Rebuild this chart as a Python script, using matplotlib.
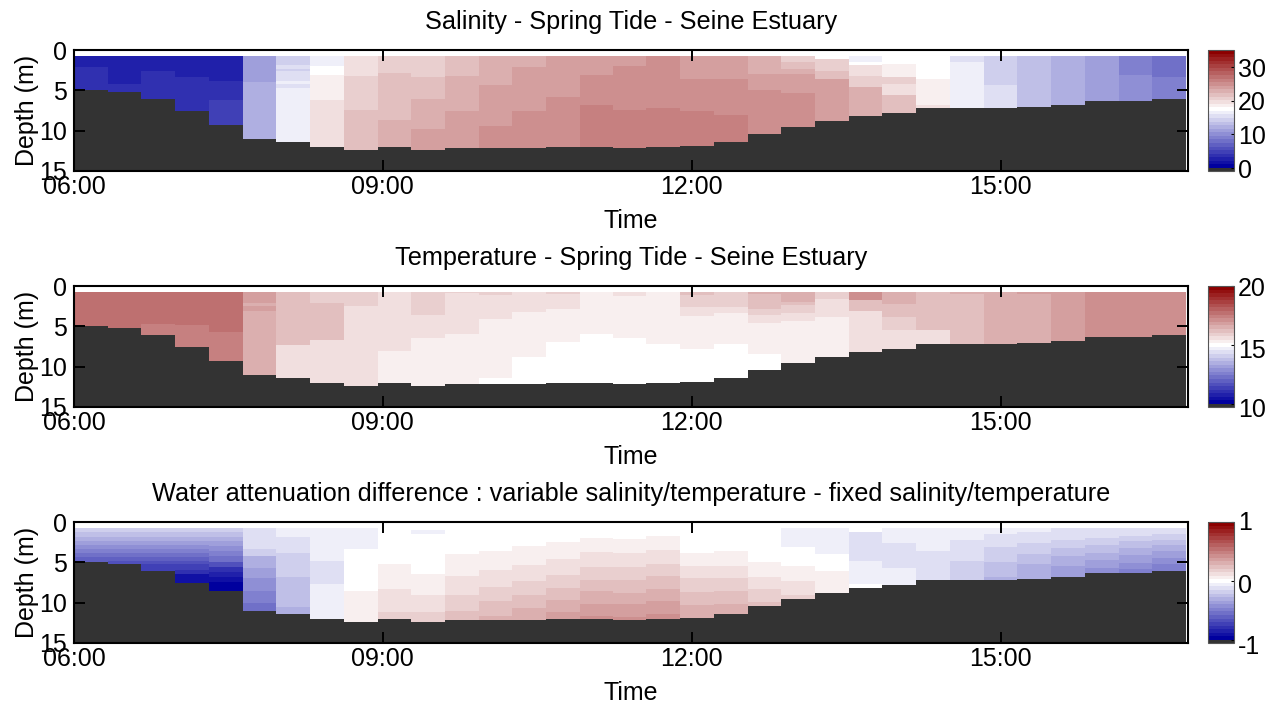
import numpy as np
import matplotlib
matplotlib.use("Agg")
import matplotlib.pyplot as plt
from matplotlib.cm import ScalarMappable
from matplotlib.colors import LinearSegmentedColormap, Normalize
from matplotlib.transforms import ScaledTranslation

plt.rcParams["font.family"] = ["Liberation Sans", "DejaVu Sans"]

# ping column edges, in decimal hours
time_edges = [6.00, 6.33, 6.65, 6.98, 7.31, 7.64, 7.96, 8.29, 8.62, 8.95, 9.27, 9.60,
              9.93, 10.25, 10.58, 10.91, 11.24, 11.56, 11.89, 12.22, 12.55, 12.87,
              13.20, 13.53, 13.85, 14.18, 14.51, 14.84, 15.16, 15.49, 15.82, 16.15,
              16.47, 16.80]
time_ticks = [6, 9, 12, 15]
time_labels = ["06:00", "09:00", "12:00", "15:00"]
depth_ticks = [0, 5, 10, 15]
surface_depth = 0.8

# each column: (depth at the bottom of the layer, value of the layer)
salinity = [
    [(2.15, 2.7), (5.0, 3.7)],
    [(4.2, 2.7), (5.2, 3.7)],
    [(2.6, 2.7), (6.05, 3.7)],
    [(3.4, 2.7), (7.6, 3.7)],
    [(3.8, 2.7), (6.2, 3.7), (9.25, 4.8)],
    [(4.0, 11.1), (11.0, 12.2)],
    [(1.8, 14.3), (2.3, 15.4), (2.55, 14.3), (3.8, 15.4), (4.2, 16.4), (4.7, 15.4), (11.45, 16.4)],
    [(2.0, 16.4), (3.1, 17.5), (6.2, 18.6), (12.0, 19.6)],
    [(3.2, 19.6), (7.0, 21.2), (7.4, 20.2), (12.4, 21.7)],
    [(2.85, 20.7), (8.7, 21.7), (12.0, 22.8)],
    [(3.4, 20.7), (6.1, 21.7), (9.8, 22.8), (12.4, 23.9)],
    [(3.2, 21.7), (7.6, 22.8), (12.2, 23.9)],
    [(4.4, 22.8), (9.4, 23.9), (12.2, 24.9)],
    [(2.15, 22.8), (7.6, 23.9), (12.2, 24.9)],
    [(5.8, 23.9), (12.0, 24.9)],
    [(3.1, 23.9), (6.8, 24.9), (12.0, 26.0)],
    [(1.95, 23.9), (7.4, 24.9), (12.2, 26.0)],
    [(7.2, 24.9), (12.0, 26.0)],
    [(3.6, 23.9), (7.5, 24.9), (11.9, 26.0)],
    [(3.6, 23.9), (8.0, 24.9), (11.45, 26.0)],
    [(3.0, 22.8), (4.95, 23.9), (10.4, 24.9)],
    [(1.5, 20.7), (2.35, 21.7), (3.0, 22.8), (5.35, 23.9), (9.6, 24.9)],
    [(1.1, 17.5), (2.6, 20.7), (3.6, 21.7), (8.85, 23.9)],
    [(1.45, 16.4), (1.9, 17.5), (3.2, 19.6), (4.6, 20.7), (8.2, 22.8)],
    [(1.75, 17.5), (3.35, 18.6), (4.2, 20.7), (5.55, 19.6), (7.75, 21.7)],
    [(3.6, 17.5), (6.8, 18.6), (7.25, 19.6)],
    [(1.45, 15.4), (7.25, 16.4)],
    [(4.3, 14.3), (7.25, 15.4)],
    [(7.05, 13.3)],
    [(6.8, 12.2)],
    [(6.35, 11.1)],
    [(3.1, 9.0), (6.35, 10.1)],
    [(3.4, 8.0), (6.05, 9.0)],
]

temperature = [
    [(5.0, 17.7)],
    [(5.2, 17.7)],
    [(4.65, 17.7), (6.05, 17.4)],
    [(4.8, 17.7), (7.6, 17.4)],
    [(5.7, 17.7), (9.25, 17.4)],
    [(2.05, 16.8), (2.45, 16.5), (3.1, 16.8), (11.0, 16.5)],
    [(7.3, 16.2), (11.45, 15.6)],
    [(2.05, 15.9), (6.65, 16.2), (12.0, 15.6)],
    [(2.45, 15.9), (12.4, 15.6)],
    [(8.0, 15.6), (12.0, 15.3)],
    [(3.6, 15.9), (6.5, 15.6), (12.4, 15.3)],
    [(0.9, 15.9), (5.9, 15.6), (12.2, 15.3)],
    [(1.1, 15.9), (4.1, 15.6), (11.4, 15.3), (12.2, 15.0)],
    [(3.2, 15.6), (8.8, 15.3), (12.2, 15.0)],
    [(1.0, 15.9), (2.8, 15.6), (7.0, 15.3), (12.0, 15.0)],
    [(6.0, 15.3), (12.0, 15.0)],
    [(1.2, 15.6), (6.4, 15.3), (12.2, 15.0)],
    [(7.2, 15.3), (12.0, 15.0)],
    [(1.1, 16.2), (2.6, 15.9), (3.7, 15.6), (7.8, 15.3), (11.9, 15.0)],
    [(2.6, 15.9), (3.4, 15.6), (7.2, 15.3), (11.45, 15.0)],
    [(1.0, 16.5), (2.9, 16.2), (3.6, 15.9), (4.55, 15.6), (8.4, 15.3), (10.4, 15.0)],
    [(1.95, 16.5), (2.35, 16.2), (3.4, 15.9), (4.4, 15.6), (9.6, 15.3)],
    [(1.65, 15.9), (3.8, 15.6), (8.85, 15.3)],
    [(1.77, 17.1), (3.1, 16.2), (8.2, 15.6)],
    [(2.2, 16.5), (3.8, 16.2), (5.5, 15.9), (7.75, 15.6)],
    [(5.5, 16.2), (7.25, 15.6)],
    [(1.0, 16.5), (7.25, 16.2)],
    [(7.25, 16.5)],
    [(1.0, 16.8), (7.05, 16.5)],
    [(6.8, 16.8)],
    [(6.35, 17.1)],
    [(6.35, 17.1)],
    [(6.05, 17.1)],
]

attenuation = [
    [(1.3, -0.18), (1.8, -0.24), (2.3, -0.30), (2.8, -0.36), (3.3, -0.42), (3.9, -0.48), (4.4, -0.55), (5.0, -0.61)],
    [(1.2, -0.18), (1.8, -0.24), (2.4, -0.30), (2.9, -0.36), (3.4, -0.42), (3.9, -0.48), (4.4, -0.55), (4.8, -0.61), (5.2, -0.67)],
    [(1.2, -0.18), (1.8, -0.24), (2.4, -0.30), (2.9, -0.36), (3.4, -0.42), (3.9, -0.48), (4.4, -0.55), (4.8, -0.61), (5.2, -0.67), (6.05, -0.73)],
    [(1.2, -0.18), (1.8, -0.24), (2.4, -0.30), (2.9, -0.36), (3.4, -0.42), (3.9, -0.48), (4.4, -0.55), (4.8, -0.61), (5.2, -0.67), (6.0, -0.73), (6.5, -0.79), (7.6, -0.91)],
    [(1.2, -0.18), (1.8, -0.24), (2.4, -0.30), (3.0, -0.36), (3.6, -0.42), (4.2, -0.48), (4.9, -0.55), (5.6, -0.67), (6.2, -0.79), (6.8, -0.85), (7.4, -0.91), (8.55, -0.97)],
    [(3.3, -0.12), (4.25, -0.18), (5.7, -0.30), (7.0, -0.36), (8.55, -0.42), (10.0, -0.48), (11.0, -0.55)],
    [(1.85, -0.06), (3.9, -0.12), (6.8, -0.18), (10.5, -0.24), (11.45, -0.30)],
    [(4.85, -0.06), (7.7, -0.12), (12.0, -0.06)],
    [(3.3, -0.06), (8.55, 0.0), (12.4, 0.06)],
    [(5.2, 0.0), (8.35, 0.06), (11.2, 0.12), (12.0, 0.18)],
    [(1.0, 0.0), (1.5, -0.06), (6.4, 0.0), (9.0, 0.06), (11.2, 0.12), (12.4, 0.18)],
    [(4.0, 0.0), (6.7, 0.06), (9.0, 0.12), (11.0, 0.18), (12.2, 0.24)],
    [(3.55, 0.0), (5.95, 0.06), (8.0, 0.12), (9.8, 0.18), (11.65, 0.24), (12.2, 0.30)],
    [(3.0, 0.0), (5.3, 0.06), (7.35, 0.12), (9.0, 0.18), (10.6, 0.24), (12.2, 0.30)],
    [(2.5, 0.0), (4.6, 0.06), (6.6, 0.12), (8.2, 0.18), (9.65, 0.24), (11.2, 0.30), (12.0, 0.36)],
    [(2.0, 0.0), (3.75, 0.06), (5.55, 0.12), (7.2, 0.18), (8.55, 0.24), (10.15, 0.30), (11.6, 0.36), (12.0, 0.42)],
    [(2.1, 0.0), (3.9, 0.06), (5.55, 0.12), (7.2, 0.18), (8.75, 0.24), (10.15, 0.30), (11.75, 0.36), (12.2, 0.42)],
    [(1.7, 0.0), (3.45, 0.06), (5.2, 0.12), (6.7, 0.18), (8.35, 0.24), (9.8, 0.30), (11.45, 0.36), (12.0, 0.42)],
    [(3.9, 0.0), (5.45, 0.06), (7.0, 0.12), (8.7, 0.18), (10.3, 0.24), (11.9, 0.30)],
    [(3.55, 0.0), (5.45, 0.06), (6.9, 0.12), (8.55, 0.18), (10.2, 0.24), (11.45, 0.30)],
    [(4.95, 0.0), (6.8, 0.06), (8.35, 0.12), (9.9, 0.18), (10.4, 0.24)],
    [(3.1, -0.06), (5.45, 0.0), (7.3, 0.06), (9.0, 0.12), (9.6, 0.18)],
    [(3.95, -0.06), (6.1, 0.0), (8.85, 0.06)],
    [(1.3, 0.0), (4.85, -0.12), (7.7, -0.06), (8.2, 0.0)],
    [(2.6, -0.06), (5.7, -0.12), (7.75, -0.06)],
    [(3.55, -0.06), (7.25, -0.12)],
    [(2.25, -0.06), (4.85, -0.12), (7.25, -0.18)],
    [(1.45, -0.06), (3.1, -0.12), (5.0, -0.18), (6.8, -0.24), (7.25, -0.30)],
    [(1.3, -0.06), (2.6, -0.12), (3.95, -0.18), (5.25, -0.24), (7.05, -0.30)],
    [(2.2, -0.12), (3.2, -0.18), (4.25, -0.24), (5.45, -0.30), (6.8, -0.36)],
    [(2.0, -0.12), (2.9, -0.18), (3.8, -0.24), (4.75, -0.30), (5.7, -0.36), (6.35, -0.42)],
    [(1.7, -0.12), (2.3, -0.18), (3.2, -0.24), (4.1, -0.30), (5.05, -0.36), (5.85, -0.42), (6.35, -0.48)],
    [(1.5, -0.12), (2.2, -0.18), (2.9, -0.24), (3.6, -0.30), (4.45, -0.36), (5.25, -0.42), (6.05, -0.48)],
]

titles = ["Salinity - Spring Tide - Seine Estuary",
          "Temperature - Spring Tide - Seine Estuary",
          "Water attenuation difference : variable salinity/temperature - fixed salinity/temperature"]
ranges = [(0, 35), (10, 20), (-1, 1)]
bar_ticks = [[0, 10, 20, 30], [10, 15, 20], [-1, 0, 1]]
bar_label_nudge = [[0, 0, 0, -1], [-3, -3, 0], [-4, -2, 2]]  # pixels, up is positive
panel_tops = [50, 286, 522]  # pixels from the top of the figure

W, H = 1275, 707
cmap = LinearSegmentedColormap.from_list("bwr_dark", [(0, 0, 0.62), (1, 1, 1), (0.55, 0, 0)], N=33)
cmap.set_under("#333333")
cmap.set_bad("white")

depth_edges = np.arange(0, 15.001, 0.05)
depth_mid = (depth_edges[:-1] + depth_edges[1:]) / 2


def profile_grid(columns, land):
    grid = np.full((len(depth_mid), len(columns)), land, dtype=float)
    for j, layers in enumerate(columns):
        top = surface_depth
        grid[depth_mid < top, j] = np.nan
        for bottom, value in layers:
            grid[(depth_mid >= top) & (depth_mid < bottom), j] = value
            top = bottom
    return grid


fig = plt.figure(figsize=(W / 100, H / 100), dpi=100)

for columns, title, (vmin, vmax), cticks, nudges, top in zip(
        [salinity, temperature, attenuation], titles, ranges, bar_ticks, bar_label_nudge, panel_tops):
    ax = fig.add_axes([74 / W, 1 - (top + 121) / H, 1114 / W, 121 / H])
    norm = Normalize(vmin, vmax)
    grid = profile_grid(columns, vmin - (vmax - vmin))
    ax.pcolormesh(time_edges, depth_edges, np.ma.masked_invalid(grid), cmap=cmap, norm=norm,
                  shading="flat", antialiased=False, rasterized=True)
    ax.set_xlim(6, 16.82)
    ax.set_ylim(15, 0)
    ax.set_xticks(time_ticks, time_labels)
    ax.set_yticks(depth_ticks)
    ax.tick_params(direction="in", length=8, width=1.4, top=True, right=True, labelsize=18, pad=3)
    ax.tick_params(axis="y", pad=5)
    for spine in ax.spines.values():
        spine.set_linewidth(1.5)
    ax.set_xlabel("Time", fontsize=18, labelpad=7)
    ax.set_ylabel("Depth (m)", fontsize=18, labelpad=0)
    ax.set_title(title, fontsize=18.2, pad=15)

    cax = fig.add_axes([1208 / W, 1 - (top + 121) / H, 26 / W, 121 / H])
    cb = fig.colorbar(ScalarMappable(norm=norm, cmap=cmap), cax=cax, extend="min",
                      extendfrac=0.025, extendrect=True, drawedges=False)
    cb.set_ticks(cticks)
    cb.ax.set_yticklabels([str(t) for t in cticks])
    cb.ax.tick_params(direction="in", length=2, width=0.8, labelsize=18, pad=3)
    cb.outline.set_edgecolor("#555555")
    cb.outline.set_linewidth(0.8)
    for label, nudge in zip(cb.ax.get_yticklabels(), nudges):
        label.set_transform(label.get_transform() + ScaledTranslation(0, nudge / 100, fig.dpi_scale_trans))

fig.savefig("out.png", dpi=100)
